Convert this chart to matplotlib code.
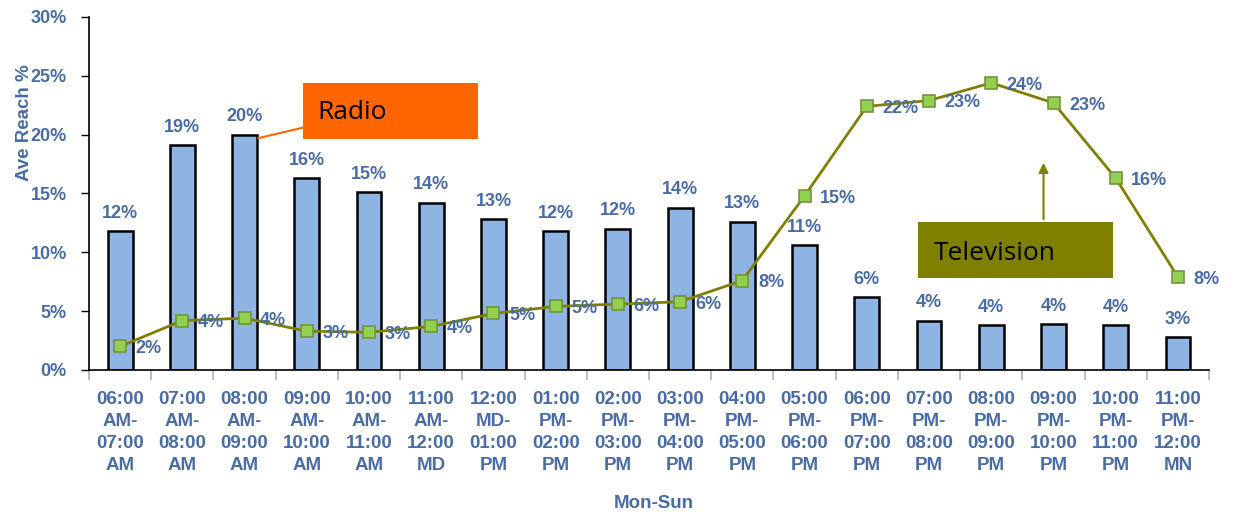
import matplotlib.pyplot as plt
from matplotlib.patches import Rectangle

slots = ["06:00\nAM-\n07:00\nAM", "07:00\nAM-\n08:00\nAM", "08:00\nAM-\n09:00\nAM",
         "09:00\nAM-\n10:00\nAM", "10:00\nAM-\n11:00\nAM", "11:00\nAM-\n12:00\nMD",
         "12:00\nMD-\n01:00\nPM", "01:00\nPM-\n02:00\nPM", "02:00\nPM-\n03:00\nPM",
         "03:00\nPM-\n04:00\nPM", "04:00\nPM-\n05:00\nPM", "05:00\nPM-\n06:00\nPM",
         "06:00\nPM-\n07:00\nPM", "07:00\nPM-\n08:00\nPM", "08:00\nPM-\n09:00\nPM",
         "09:00\nPM-\n10:00\nPM", "10:00\nPM-\n11:00\nPM", "11:00\nPM-\n12:00\nMN"]
radio = [11.8, 19.1, 20.0, 16.3, 15.1, 14.2, 12.8, 11.8, 12.0, 13.8, 12.6, 10.6,
         6.2, 4.2, 3.8, 3.9, 3.8, 2.8]
tv = [2.0, 4.2, 4.4, 3.3, 3.2, 3.7, 4.8, 5.4, 5.6, 5.8, 7.6, 14.8,
      22.4, 22.9, 24.4, 22.7, 16.3, 7.9]

label_col = '#4A6CA6'
plt.rcParams['font.family'] = ['Liberation Sans', 'DejaVu Sans']

fig = plt.figure(figsize=(12.43, 5.13), dpi=100)
ax = fig.add_axes([0.0716, 0.2788, 0.9011, 0.6881])

x = list(range(len(slots)))
ax.bar(x, radio, width=0.4, color='#8DB4E2', edgecolor='black', linewidth=1.8, zorder=2)
ax.plot(x, tv, color='#808000', linewidth=2, marker='s', markersize=9,
        markerfacecolor='#92D050', markeredgecolor='#77933C', markeredgewidth=1.2, zorder=3)

for i, v in enumerate(radio):
    ax.text(i, v + 0.8, f"{round(v)}%", ha='center', va='bottom', color=label_col,
            fontsize=13, fontweight='bold', zorder=4)
for i, v in enumerate(tv):
    ax.text(i + 0.25, v - 0.2, f"{round(v)}%", ha='left', va='center', color=label_col,
            fontsize=13, fontweight='bold', zorder=4)

ax.set_xlim(-0.5, len(slots) - 0.5)
ax.set_ylim(0, 30)
ax.set_yticks([0, 5, 10, 15, 20, 25, 30])
ax.set_yticklabels([f"{t}%" for t in [0, 5, 10, 15, 20, 25, 30]], color=label_col,
                   fontsize=13, fontweight='bold')
ax.set_xticks(x)
ax.set_xticklabels(slots, color=label_col, fontsize=13.5, fontweight='bold',
                   linespacing=1.38)
ax.tick_params(axis='x', length=0, pad=15)
ax.set_xticks([i - 0.5 for i in range(len(slots) + 1)], minor=True)
ax.tick_params(axis='x', which='minor', length=7, width=1.5, color='#BFBFBF', direction='out')
ax.tick_params(axis='y', length=6, width=1, direction='out', pad=10)
for s in ['top', 'right']:
    ax.spines[s].set_visible(False)
ax.spines['left'].set_linewidth(1.2)
ax.spines['bottom'].set_linewidth(1.2)

ax.set_ylabel("Ave Reach %", color=label_col, fontsize=13.5, fontweight='bold')
ax.yaxis.set_label_coords(-0.05, 0.70)
ax.set_xlabel("Mon-Sun", color=label_col, fontsize=13.5, fontweight='bold', va='center')
ax.xaxis.set_label_coords(0.504, -0.377)

# Radio callout
ax.add_patch(Rectangle((2.94, 19.6), 2.81, 4.8, facecolor='#FF6600', edgecolor='none',
                       zorder=5, clip_on=False))
ax.text(3.17, 21.9, "Radio", ha='left', va='center', fontsize=19, color='black',
        family='Open Sans', zorder=6)
ax.plot([2.22, 2.94], [19.7, 20.6], color='#FF6600', linewidth=1.5, zorder=5)

# Television callout
ax.add_patch(Rectangle((12.83, 7.82), 3.12, 4.75, facecolor='#808000', edgecolor='none',
                       zorder=5, clip_on=False))
ax.text(13.07, 9.9, "Television", ha='left', va='center', fontsize=19, color='black',
        family='Open Sans', zorder=6)
ax.annotate("", xy=(14.84, 17.84), xytext=(14.84, 12.57),
            arrowprops=dict(arrowstyle='-|>', color='#808000', lw=1.5, mutation_scale=14),
            zorder=5)

plt.savefig('out.png', dpi=100)
